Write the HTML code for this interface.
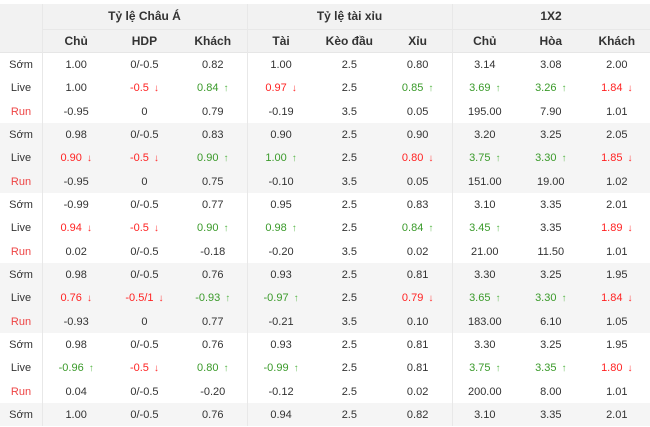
<!DOCTYPE html>
<html><head><meta charset="utf-8"><style>
*{margin:0;padding:0;box-sizing:border-box}
body{width:650px;height:426px;overflow:hidden;background:#fff;font-family:"Liberation Sans",Tahoma,sans-serif;font-size:11px;color:#333;position:relative}
.hd{position:absolute;left:0;top:4px;width:650px;height:49px;background:#f2f2f2;border-bottom:1px solid #e6e6e6}
.r{position:absolute;left:0;width:650px;height:23.33px;display:flex;align-items:center}
.r div{text-align:center;white-space:nowrap}
.c0{width:42px}.c1,.c2,.c3,.c4,.c5,.c6{width:68.3px}.c7,.c8,.c9{width:66px}
.g{background:#f5f5f5}
.b{font-weight:bold;font-size:12px;color:#333}
.run{color:#e44}
.rd{color:#f22}.gr{color:#3a9a2a}
.rd i,.gr i{font-style:normal;font-weight:bold;font-size:10px;margin-left:5px}
.rd i{color:#f33}.gr i{color:#5cb84c}
.vl{position:absolute;top:4px;bottom:0;width:1px;background:#e8e8e8}
.h1{position:absolute;top:4px;height:25px;line-height:25px;text-align:center;font-weight:bold;font-size:12px}
</style></head><body>
<div class="hd"></div>
<div style="position:absolute;left:42px;top:29px;width:608px;height:1px;background:#e8e8e8"></div>
<div class="g" style="position:absolute;left:0;top:123.3px;width:650px;height:70px"></div>
<div class="g" style="position:absolute;left:0;top:263.3px;width:650px;height:70px"></div>
<div class="g" style="position:absolute;left:0;top:403.3px;width:650px;height:23px"></div>
<div class="vl" style="left:42px"></div><div class="vl" style="left:247px"></div><div class="vl" style="left:452px"></div>
<div class="h1" style="left:42px;width:205px">Tỷ lệ Châu Á</div>
<div class="h1" style="left:247px;width:205px">Tỷ lệ tài xỉu</div>
<div class="h1" style="left:452px;width:198px">1X2</div>
<div class="r b" style="top:29px"><div class="c0"></div><div class="c1">Chủ</div><div class="c2">HDP</div><div class="c3">Khách</div><div class="c4">Tài</div><div class="c5">Kèo đầu</div><div class="c6">Xỉu</div><div class="c7">Chủ</div><div class="c8">Hòa</div><div class="c9">Khách</div></div>

<div class="r" style="top:53.3px"><div class="c0">Sớm</div><div class="c1">1.00</div><div class="c2">0/-0.5</div><div class="c3">0.82</div><div class="c4">1.00</div><div class="c5">2.5</div><div class="c6">0.80</div><div class="c7">3.14</div><div class="c8">3.08</div><div class="c9">2.00</div></div>
<div class="r" style="top:76.7px"><div class="c0">Live</div><div class="c1">1.00</div><div class="c2 rd">-0.5<i>↓</i></div><div class="c3 gr">0.84<i>↑</i></div><div class="c4 rd">0.97<i>↓</i></div><div class="c5">2.5</div><div class="c6 gr">0.85<i>↑</i></div><div class="c7 gr">3.69<i>↑</i></div><div class="c8 gr">3.26<i>↑</i></div><div class="c9 rd">1.84<i>↓</i></div></div>
<div class="r" style="top:100px"><div class="c0 run">Run</div><div class="c1">-0.95</div><div class="c2">0</div><div class="c3">0.79</div><div class="c4">-0.19</div><div class="c5">3.5</div><div class="c6">0.05</div><div class="c7">195.00</div><div class="c8">7.90</div><div class="c9">1.01</div></div>

<div class="r" style="top:123.3px"><div class="c0">Sớm</div><div class="c1">0.98</div><div class="c2">0/-0.5</div><div class="c3">0.83</div><div class="c4">0.90</div><div class="c5">2.5</div><div class="c6">0.90</div><div class="c7">3.20</div><div class="c8">3.25</div><div class="c9">2.05</div></div>
<div class="r" style="top:146.7px"><div class="c0">Live</div><div class="c1 rd">0.90<i>↓</i></div><div class="c2 rd">-0.5<i>↓</i></div><div class="c3 gr">0.90<i>↑</i></div><div class="c4 gr">1.00<i>↑</i></div><div class="c5">2.5</div><div class="c6 rd">0.80<i>↓</i></div><div class="c7 gr">3.75<i>↑</i></div><div class="c8 gr">3.30<i>↑</i></div><div class="c9 rd">1.85<i>↓</i></div></div>
<div class="r" style="top:170px"><div class="c0 run">Run</div><div class="c1">-0.95</div><div class="c2">0</div><div class="c3">0.75</div><div class="c4">-0.10</div><div class="c5">3.5</div><div class="c6">0.05</div><div class="c7">151.00</div><div class="c8">19.00</div><div class="c9">1.02</div></div>

<div class="r" style="top:193.3px"><div class="c0">Sớm</div><div class="c1">-0.99</div><div class="c2">0/-0.5</div><div class="c3">0.77</div><div class="c4">0.95</div><div class="c5">2.5</div><div class="c6">0.83</div><div class="c7">3.10</div><div class="c8">3.35</div><div class="c9">2.01</div></div>
<div class="r" style="top:216.7px"><div class="c0">Live</div><div class="c1 rd">0.94<i>↓</i></div><div class="c2 rd">-0.5<i>↓</i></div><div class="c3 gr">0.90<i>↑</i></div><div class="c4 gr">0.98<i>↑</i></div><div class="c5">2.5</div><div class="c6 gr">0.84<i>↑</i></div><div class="c7 gr">3.45<i>↑</i></div><div class="c8">3.35</div><div class="c9 rd">1.89<i>↓</i></div></div>
<div class="r" style="top:240px"><div class="c0 run">Run</div><div class="c1">0.02</div><div class="c2">0/-0.5</div><div class="c3">-0.18</div><div class="c4">-0.20</div><div class="c5">3.5</div><div class="c6">0.02</div><div class="c7">21.00</div><div class="c8">11.50</div><div class="c9">1.01</div></div>

<div class="r" style="top:263.3px"><div class="c0">Sớm</div><div class="c1">0.98</div><div class="c2">0/-0.5</div><div class="c3">0.76</div><div class="c4">0.93</div><div class="c5">2.5</div><div class="c6">0.81</div><div class="c7">3.30</div><div class="c8">3.25</div><div class="c9">1.95</div></div>
<div class="r" style="top:286.7px"><div class="c0">Live</div><div class="c1 rd">0.76<i>↓</i></div><div class="c2 rd">-0.5/1<i>↓</i></div><div class="c3 gr">-0.93<i>↑</i></div><div class="c4 gr">-0.97<i>↑</i></div><div class="c5">2.5</div><div class="c6 rd">0.79<i>↓</i></div><div class="c7 gr">3.65<i>↑</i></div><div class="c8 gr">3.30<i>↑</i></div><div class="c9 rd">1.84<i>↓</i></div></div>
<div class="r" style="top:310px"><div class="c0 run">Run</div><div class="c1">-0.93</div><div class="c2">0</div><div class="c3">0.77</div><div class="c4">-0.21</div><div class="c5">3.5</div><div class="c6">0.10</div><div class="c7">183.00</div><div class="c8">6.10</div><div class="c9">1.05</div></div>

<div class="r" style="top:333.3px"><div class="c0">Sớm</div><div class="c1">0.98</div><div class="c2">0/-0.5</div><div class="c3">0.76</div><div class="c4">0.93</div><div class="c5">2.5</div><div class="c6">0.81</div><div class="c7">3.30</div><div class="c8">3.25</div><div class="c9">1.95</div></div>
<div class="r" style="top:356.7px"><div class="c0">Live</div><div class="c1 gr">-0.96<i>↑</i></div><div class="c2 rd">-0.5<i>↓</i></div><div class="c3 gr">0.80<i>↑</i></div><div class="c4 gr">-0.99<i>↑</i></div><div class="c5">2.5</div><div class="c6">0.81</div><div class="c7 gr">3.75<i>↑</i></div><div class="c8 gr">3.35<i>↑</i></div><div class="c9 rd">1.80<i>↓</i></div></div>
<div class="r" style="top:380px"><div class="c0 run">Run</div><div class="c1">0.04</div><div class="c2">0/-0.5</div><div class="c3">-0.20</div><div class="c4">-0.12</div><div class="c5">2.5</div><div class="c6">0.02</div><div class="c7">200.00</div><div class="c8">8.00</div><div class="c9">1.01</div></div>

<div class="r" style="top:403.3px"><div class="c0">Sớm</div><div class="c1">1.00</div><div class="c2">0/-0.5</div><div class="c3">0.76</div><div class="c4">0.94</div><div class="c5">2.5</div><div class="c6">0.82</div><div class="c7">3.10</div><div class="c8">3.35</div><div class="c9">2.01</div></div>
</body></html>
